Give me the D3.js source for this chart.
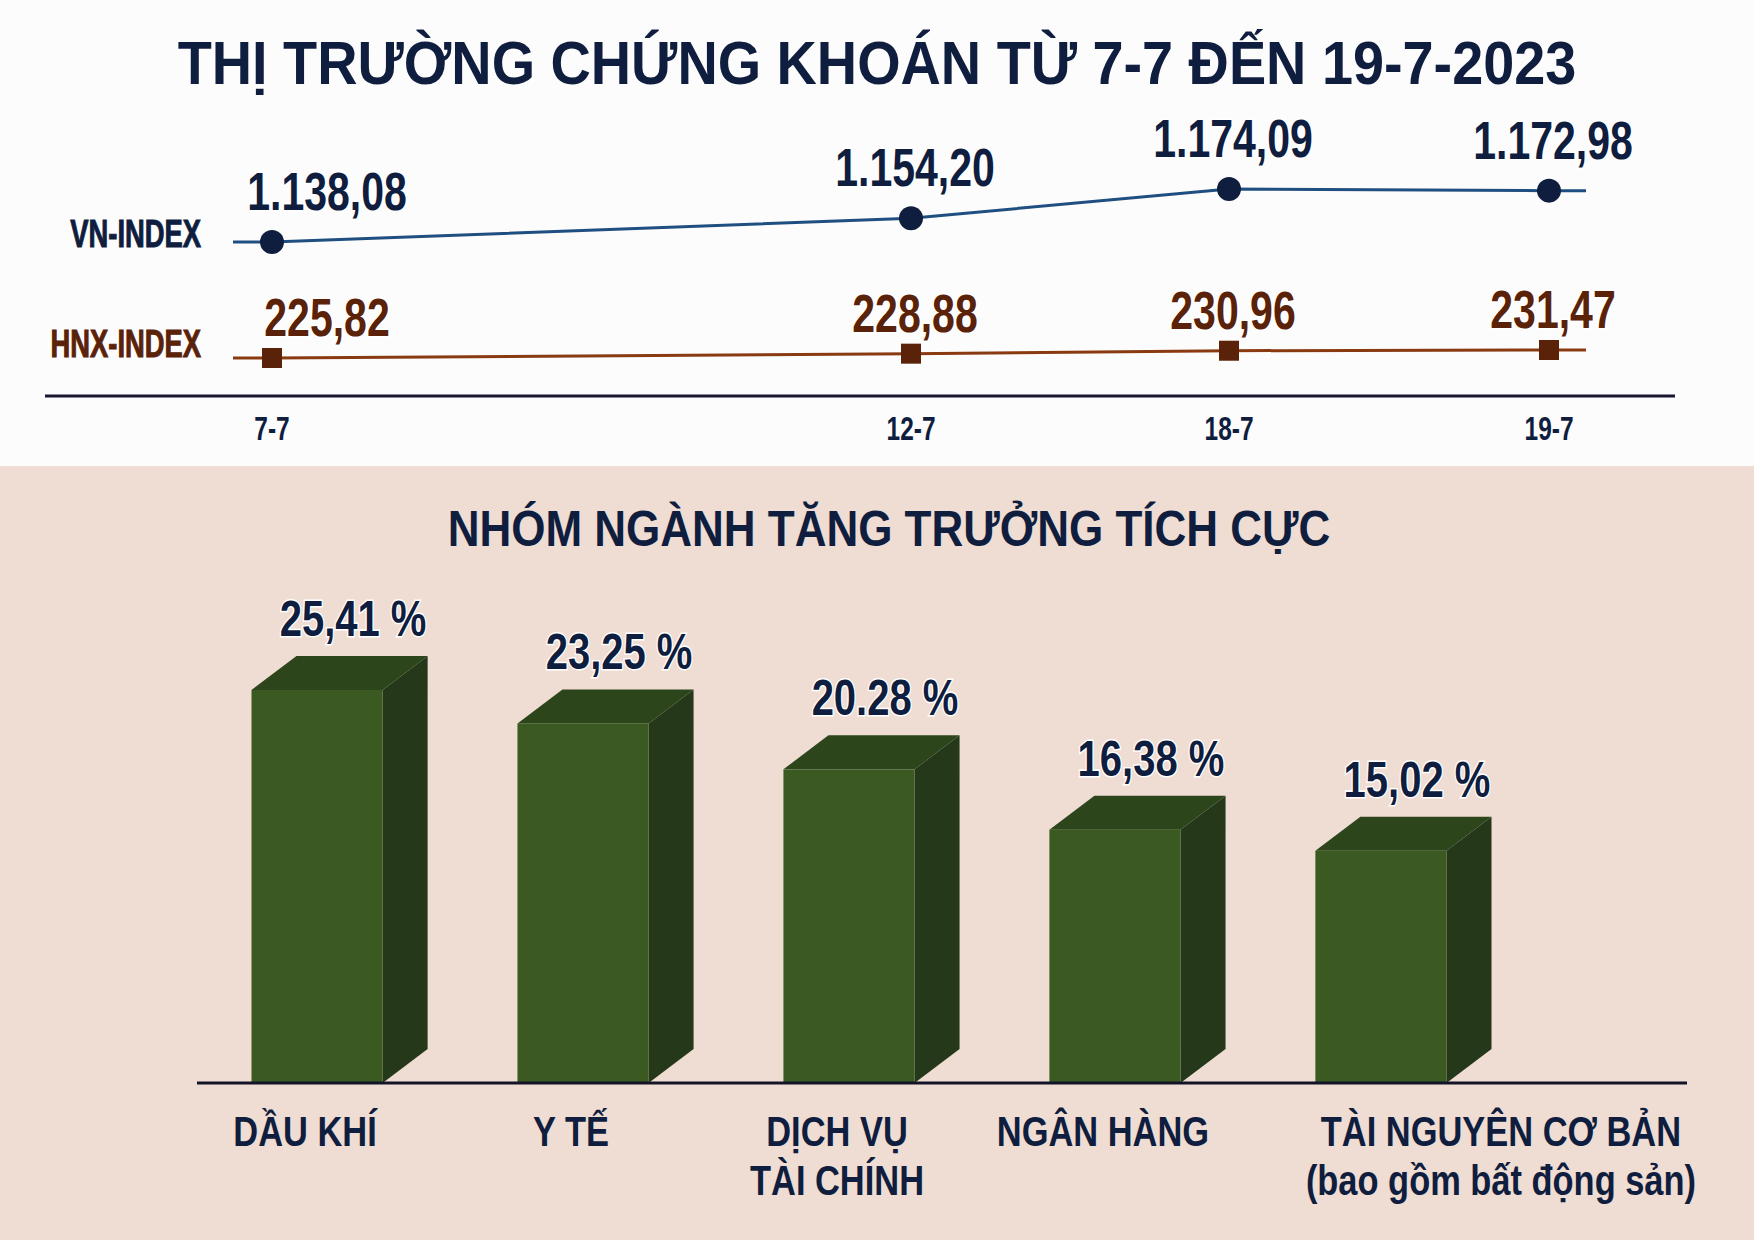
<!DOCTYPE html><html><head><meta charset="utf-8">
<script src="https://cdn.jsdelivr.net/npm/d3@7"></script>
<style>body{margin:0}svg{display:block}text{font-family:"Liberation Sans Narrow","Liberation Sans",sans-serif;font-weight:bold}</style></head><body>
<script>
const dates=["7-7","12-7","18-7","19-7"];
const vnIndex=[1138.08,1154.20,1174.09,1172.98];
const vnLabels=["1.138,08","1.154,20","1.174,09","1.172,98"];
const hnxIndex=[225.82,228.88,230.96,231.47];
const hnxLabels=["225,82","228,88","230,96","231,47"];
const sectors=[["DẦU KHÍ"],["Y TẾ"],["DỊCH VỤ","TÀI CHÍNH"],["NGÂN HÀNG"],["TÀI NGUYÊN CƠ BẢN","(bao gồm bất động sản)"]];
const growth=[25.41,23.25,20.28,16.38,15.02];
const growthLabels=["25,41 %","23,25 %","20.28 %","16,38 %","15,02 %"];
const W=1754,H=1240,navy="#0f1d3e",brown="#5a2208";
const svg=d3.select("body").append("svg").attr("width",W).attr("height",H);
function T(x,y,s,size,col,anchor,sx){
 return svg.append("text").attr("transform",`translate(${x},${y}) scale(${sx},1)`).attr("text-anchor",anchor||"middle")
  .attr("font-size",size).attr("fill",col).text(s);
}
svg.append("rect").attr("width",W).attr("height",H).attr("fill","#efdcd2");
svg.append("rect").attr("width",W).attr("height",466).attr("fill","#fdfcfc");
T(877,84,"THỊ TRƯỜNG CHỨNG KHOÁN TỪ 7-7 ĐẾN 19-7-2023",62,navy,"middle",0.9);
const x=d3.scaleOrdinal().domain(dates).range([272,911,1229,1549]);
const yV=d3.scaleLinear().domain([1138.08,1174.09]).range([242,189]);
const yH=d3.scaleLinear().domain([225.82,231.47]).range([358,350]);
function series(vals,y,col,lcol,labels,name,ny,shape,ly){
 const pts=vals.map((v,i)=>[x(dates[i]),y(v)]);
 const full=[[233,pts[0][1]],...pts,[1586,pts[3][1]]];
 svg.append("path").attr("d",d3.line()(full)).attr("fill","none").attr("stroke",lcol).attr("stroke-width",3);
 pts.forEach((p,i)=>{
  if(shape==="c")svg.append("circle").attr("cx",p[0]).attr("cy",p[1]).attr("r",12).attr("fill",col);
  else svg.append("rect").attr("x",p[0]-10).attr("y",p[1]-10).attr("width",20).attr("height",20).attr("fill",col);
  T(p[0]+(i===0?55:4),p[1]+ly,labels[i],54,col,"middle",0.76).attr("stroke","#fff").attr("stroke-width",3).attr("paint-order","stroke");
 });
 T(201,ny,name,38,col,"end",0.72).attr("stroke",col).attr("stroke-width",1);
}
series(vnIndex,yV,navy,"#1f4f80",vnLabels,"VN-INDEX",247,"c",-32);
series(hnxIndex,yH,brown,"#8a3a10",hnxLabels,"HNX-INDEX",357,"s",-22);
svg.append("line").attr("x1",45).attr("x2",1675).attr("y1",396).attr("y2",396).attr("stroke","#1a1530").attr("stroke-width",3);
dates.forEach(d=>T(x(d),440,d,34,navy,"middle",0.72));
T(889,546,"NHÓM NGÀNH TĂNG TRƯỞNG TÍCH CỰC",50,navy,"middle",0.88);
const xb=d3.scaleBand().domain(d3.range(5)).range([185,1513]).paddingInner(0.507).paddingOuter(0.25);
const yb=d3.scaleLinear().domain([0,25.41]).range([1083,690]);
const dx=45,dy=34;
growth.forEach((g,i)=>{
 const x0=xb(i),w=xb.bandwidth(),t=yb(g),b=yb(0);
 svg.append("path").attr("d",`M${x0+w},${t}L${x0+w+dx},${t-dy}L${x0+w+dx},${b-dy}L${x0+w},${b}Z`).attr("fill","#253819");
 svg.append("path").attr("d",`M${x0},${t}L${x0+dx},${t-dy}L${x0+w+dx},${t-dy}L${x0+w},${t}Z`).attr("fill","#2c451b");
 svg.append("rect").attr("x",x0).attr("y",t).attr("width",w).attr("height",b-t).attr("fill","#3a5a22");
 T(x0+w/2+dx*0.8,t-dy-20,growthLabels[i],50,navy,"middle",0.8).attr("stroke","#fff").attr("stroke-width",3).attr("paint-order","stroke");
 sectors[i].forEach((s,j)=>T(i===4?x0+w/2+120:x0+w/2-12,1146+j*49,s,42,navy,"middle",0.82)
  .attr("font-weight",j===1&&i===4?"normal":"bold"));
});
svg.append("line").attr("x1",197).attr("x2",1687).attr("y1",1083).attr("y2",1083).attr("stroke","#141428").attr("stroke-width",3);
</script></body></html>
